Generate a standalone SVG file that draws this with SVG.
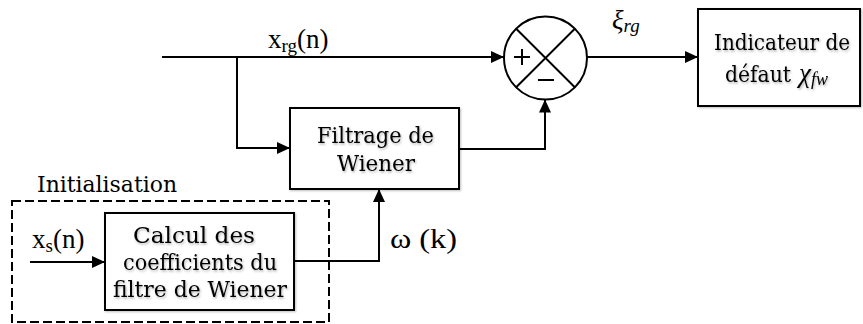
<svg xmlns="http://www.w3.org/2000/svg" width="863" height="324" viewBox="0 0 863 324">
<defs>
<marker id="arr" viewBox="0 0 13 12" refX="13" refY="6" markerWidth="13" markerHeight="12" markerUnits="userSpaceOnUse" orient="auto">
<path d="M0,0 L13,6 L0,12 Z" fill="#000"/>
</marker>
<filter id="sh" x="-10%" y="-10%" width="120%" height="120%">
<feDropShadow dx="1" dy="1" stdDeviation="1.2" flood-color="#000" flood-opacity="0.25"/>
</filter>
<filter id="tsh" x="-10%" y="-30%" width="120%" height="160%">
<feDropShadow dx="1" dy="1.5" stdDeviation="1" flood-color="#000" flood-opacity="0.3"/>
</filter>
</defs>
<style>
.box{fill:#fff;stroke:#000;stroke-width:2}
.ln{fill:none;stroke:#000;stroke-width:2}
.bt{font-family:"DejaVu Serif","Liberation Serif",serif;font-size:23px;fill:#000}
.m{font-family:"Liberation Serif","DejaVu Serif",serif;font-size:27px;fill:#000}
</style>
<rect width="863" height="324" fill="#fff"/>

<g id="connectors">
<path class="ln" d="M162,57 H504" marker-end="url(#arr)"/>
<path class="ln" d="M237,57 V148 H290" marker-end="url(#arr)"/>
<path class="ln" d="M459,149 H545 V99.5" marker-end="url(#arr)"/>
<path class="ln" d="M587,57 H698" marker-end="url(#arr)"/>
<path class="ln" d="M30,262 H105" marker-end="url(#arr)"/>
<path class="ln" d="M294,261 H379 V189" marker-end="url(#arr)"/>
</g>

<g id="labels">
<text class="m" x="268" y="48">x<tspan font-size="19" dy="4">rg</tspan><tspan dy="-4">(n)</tspan></text>
<text class="m" x="612" y="29" font-style="italic">ξ<tspan font-size="19" dy="3">rg</tspan></text>
<text class="m" x="32" y="248">x<tspan font-size="19" dy="4">s</tspan><tspan dy="-4">(n)</tspan></text>
<text class="m" x="390" y="248" textLength="67" lengthAdjust="spacingAndGlyphs">ω (k)</text>
</g>

<g id="init">
<rect x="12" y="201" width="317" height="121" fill="none" stroke="#000" stroke-width="2" stroke-dasharray="9 4"/>
<text class="bt" x="37" y="192" textLength="140" lengthAdjust="spacingAndGlyphs">Initialisation</text>
</g>

<g id="sum">
<circle cx="545.5" cy="58" r="41.5" fill="#fff" stroke="#000" stroke-width="2"/>
<path class="ln" d="M516.2,28.7 L574.8,87.3 M574.8,28.7 L516.2,87.3"/>
<path class="ln" d="M514,57 H530 M522,49 V65"/>
<path class="ln" d="M538,80 H554"/>
</g>

<g id="filtrage">
<rect class="box" x="290" y="108" width="169" height="81" filter="url(#sh)"/>
<g filter="url(#tsh)">
<text class="bt" x="317" y="143" textLength="117" lengthAdjust="spacingAndGlyphs">Filtrage de</text>
<text class="bt" x="337" y="171" textLength="78" lengthAdjust="spacingAndGlyphs">Wiener</text>
</g>
</g>

<g id="calcul">
<rect class="box" x="105" y="213" width="189" height="97" filter="url(#sh)"/>
<g filter="url(#tsh)">
<text class="bt" x="133" y="243" textLength="122" lengthAdjust="spacingAndGlyphs">Calcul des</text>
<text class="bt" x="123" y="270" textLength="154" lengthAdjust="spacingAndGlyphs">coefficients du</text>
<text class="bt" x="113" y="297" textLength="174" lengthAdjust="spacingAndGlyphs">filtre de Wiener</text>
</g>
</g>

<g id="indicateur">
<rect class="box" x="698" y="9" width="162" height="97" filter="url(#sh)"/>
<g filter="url(#tsh)">
<text class="bt" x="714" y="50" font-size="22" textLength="136" lengthAdjust="spacingAndGlyphs">Indicateur de</text>
<text class="bt" x="725" y="82" textLength="66" lengthAdjust="spacingAndGlyphs">défaut</text>
<text class="m" x="799" y="82" font-size="28" font-style="italic">χ<tspan font-size="18" dy="3">fw</tspan></text>
</g>
</g>
</svg>
